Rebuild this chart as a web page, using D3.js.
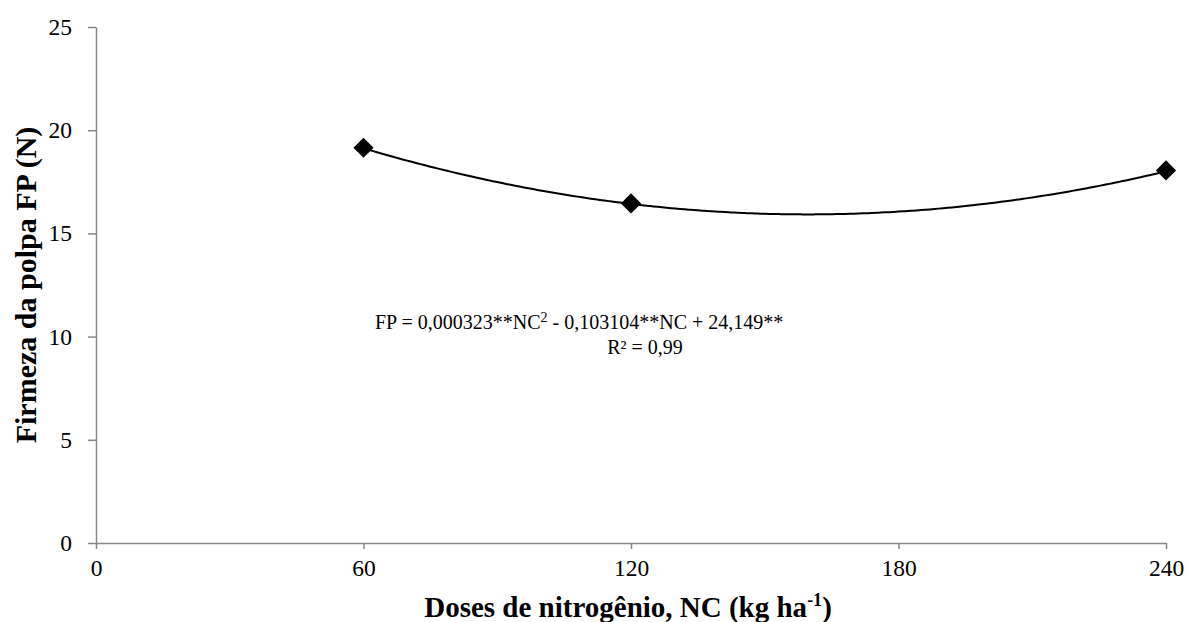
<!DOCTYPE html>
<html lang="pt">
<head>
<meta charset="utf-8">
<title>Firmeza da polpa</title>
<script src="https://cdn.jsdelivr.net/npm/d3@7"></script>
<style>
  body { margin: 0; background: #fff; }
  svg text { font-family: "Liberation Serif", "Times New Roman", Times, serif; }
</style>
</head>
<body>
<script>
// data
var doses = [60, 120, 240];
var firmeza = [19.15, 16.45, 18.05];
var xTicks = [0, 60, 120, 180, 240];
var yTicks = [0, 5, 10, 15, 20, 25];
// quadratic trend coefficients shown in the equation (c, b, a)
var coef = [24.149, -0.103104, 0.000323];

var serif = "'Liberation Serif', 'Times New Roman', Times, serif";
var w = 1188, h = 622;
var margin = { left: 96, right: 22, top: 27, bottom: 79 };

var svg = d3.select("body").append("svg")
    .attr("width", w)
    .attr("height", h);

var xScale = d3.scaleLinear()
    .domain([0, 240])
    .range([margin.left, w - margin.right]);

var yScale = d3.scaleLinear()
    .domain([0, 25])
    .range([h - margin.bottom, margin.top]);

// axes
var xAxis = svg.append("g")
    .attr("transform", "translate(0," + yScale(0) + ")")
    .call(d3.axisBottom(xScale).tickValues(xTicks).tickSizeInner(6).tickSizeOuter(0).tickPadding(6));

var yAxis = svg.append("g")
    .attr("transform", "translate(" + xScale(0) + ",0)")
    .call(d3.axisLeft(yScale).tickValues(yTicks).tickSizeInner(8).tickSizeOuter(0).tickPadding(16));

[xAxis, yAxis].forEach(function(ax) {
  ax.attr("font-family", serif).attr("font-size", 23);
  ax.select(".domain").attr("stroke", "#868686").attr("stroke-width", 1.5);
  ax.selectAll(".tick line").attr("stroke", "#868686").attr("stroke-width", 1.5);
  ax.selectAll(".tick text")
    .attr("fill", "#000")
    .style("font-size", "23.5px")
    .style("font-family", serif);
});
xAxis.selectAll(".tick text").attr("dy", "0.9em");

// trend line
var fit = function(x) { return coef[0] + coef[1] * x + coef[2] * x * x; };
var xs = d3.range(doses[0], doses[doses.length - 1] + 0.5, 1);
svg.append("path")
    .datum(xs)
    .attr("fill", "none")
    .attr("stroke", "#000")
    .attr("stroke-width", 2)
    .attr("d", d3.line()
      .x(function(d) { return xScale(d); })
      .y(function(d) { return yScale(fit(d)); })
      .curve(d3.curveMonotoneX));

// diamond markers
svg.selectAll("path.pt")
    .data(doses)
    .enter()
    .append("path")
    .attr("class", "pt")
    .attr("d", d3.symbol().type(d3.symbolDiamond2).size(260))
    .attr("transform", function(d, i) {
      return "translate(" + xScale(d) + "," + yScale(firmeza[i]) + ")";
    })
    .attr("fill", "#000");

// equation
var eq = svg.append("text")
    .attr("x", 375)
    .attr("y", 329)
    .style("font-family", serif)
    .style("font-size", "20px")
    .attr("fill", "#000");
eq.append("tspan").text("FP = 0,000323**NC");
eq.append("tspan").style("font-size", "14px").attr("dy", "-7").text("2");
eq.append("tspan").attr("dy", "7").text(" - 0,103104**NC + 24,149**");

svg.append("text")
    .attr("x", 645)
    .attr("y", 354)
    .attr("text-anchor", "middle")
    .style("font-family", serif)
    .style("font-size", "20px")
    .attr("fill", "#000")
    .text("R² = 0,99");

// axis titles
var xt = svg.append("text")
    .attr("x", 628)
    .attr("y", 617)
    .attr("text-anchor", "middle")
    .style("font-family", serif)
    .style("font-size", "29px")
    .attr("font-weight", "bold")
    .attr("fill", "#000");
xt.append("tspan").text("Doses de nitrogênio, NC (kg ha");
xt.append("tspan").style("font-size", "18px").attr("dy", "-11").text("-1");
xt.append("tspan").attr("dy", "11").text(")");

svg.append("text")
    .attr("transform", "translate(36," + 285 + ") rotate(-90)")
    .attr("text-anchor", "middle")
    .style("font-family", serif)
    .style("font-size", "30px")
    .attr("font-weight", "bold")
    .attr("fill", "#000")
    .text("Firmeza da polpa FP (N)");
</script>
</body>
</html>
